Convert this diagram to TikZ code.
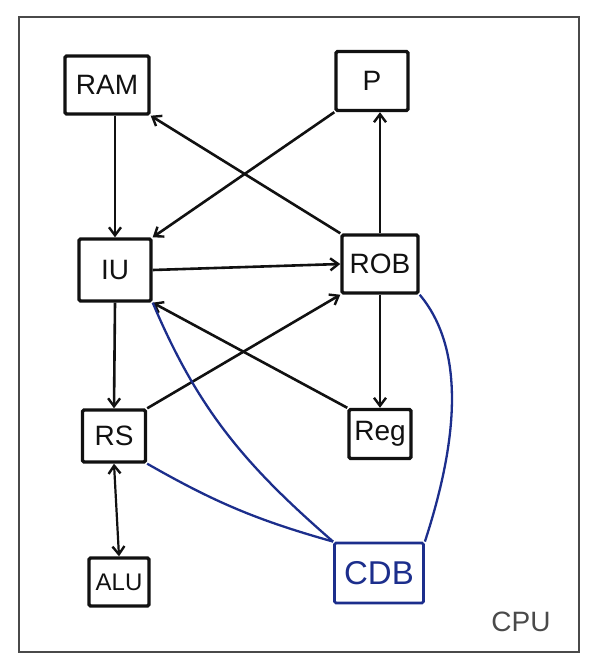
\documentclass[tikz,border=0pt]{standalone}
\usepackage{fontspec}
\setmainfont{Liberation Sans}
\usetikzlibrary{arrows.meta}
\definecolor{pen}{HTML}{111111}
\definecolor{bluepen}{HTML}{1C2E8C}
\definecolor{framegray}{HTML}{4A4A4A}
\begin{document}
\begin{tikzpicture}[x=1pt,y=1pt,
  box/.style={draw=pen, line width=3.4pt, rounded corners=1.5pt, inner sep=0pt, font=\fontsize{28}{28}\selectfont, text=pen},
  bluebox/.style={box, draw=bluepen, line width=2.8pt, text=bluepen, font=\fontsize{33}{33}\selectfont},
  arr/.style={draw=pen, line width=2.6pt, -{Straight Barb[length=8pt,width=12pt,line width=2.4pt]}},
  dblarr/.style={draw=pen, line width=2.2pt, {Straight Barb[length=8pt,width=12pt,line width=2.4pt]}-{Straight Barb[length=8pt,width=12pt,line width=2.4pt]}},
  bus/.style={draw=bluepen, line width=2.3pt}
]
\useasboundingbox (0,0) rectangle (600,-670);
\draw[framegray, line width=2pt] (19,-17) rectangle (579,-652);

\node[box, minimum width=84pt, minimum height=58pt] (RAM) at (107,-85) {RAM};
\node[box, minimum width=72pt, minimum height=59pt] (P) at (372,-81) {P};
\node[box, minimum width=72pt, minimum height=62pt] (IU) at (115,-270) {IU};
\node[box, minimum width=76pt, minimum height=58pt] (ROB) at (380,-264) {ROB};
\node[box, minimum width=63pt, minimum height=52pt] (RS) at (114,-436) {RS};
\node[box, minimum width=62pt, minimum height=49pt] (Reg) at (380,-434) {Reg};
\node[box, minimum width=60pt, minimum height=48pt, font=\fontsize{24}{24}\selectfont] (ALU) at (119,-582) {ALU};
\node[bluebox, minimum width=89pt, minimum height=60pt] (CDB) at (379,-573) {CDB};
\node[text=framegray, font=\fontsize{28}{28}\selectfont] (CPU) at (521,-622) {CPU};

% black connectors
\draw[arr] (RAM.south -| IU.north) -- (IU.north);
\draw[arr] (P.south west) -- (IU.north east);
\draw[arr] (ROB.north west) -- (RAM.south east);
\draw[arr] (ROB.north) -- (ROB.north |- P.south);
\draw[arr] (IU.east) -- (ROB.west);
\draw[arr] (IU.south) -- (RS.north);
\draw[arr] (RS.north east) -- (ROB.south west);
\draw[arr] (Reg.north west) -- (IU.south east);
\draw[arr] (ROB.south) -- (Reg.north);
\draw[dblarr] (RS.south) -- (ALU.north);

% blue bus lines
\draw[bus] (CDB.north west) to[out=139, in=-67] (IU.south east);
\draw[bus] (CDB.north west) to[bend left=7] (RS.south east);
\draw[bus] (ROB.south east) to[out=-50, in=72, looseness=0.85] (CDB.north east);
\end{tikzpicture}
\end{document}
